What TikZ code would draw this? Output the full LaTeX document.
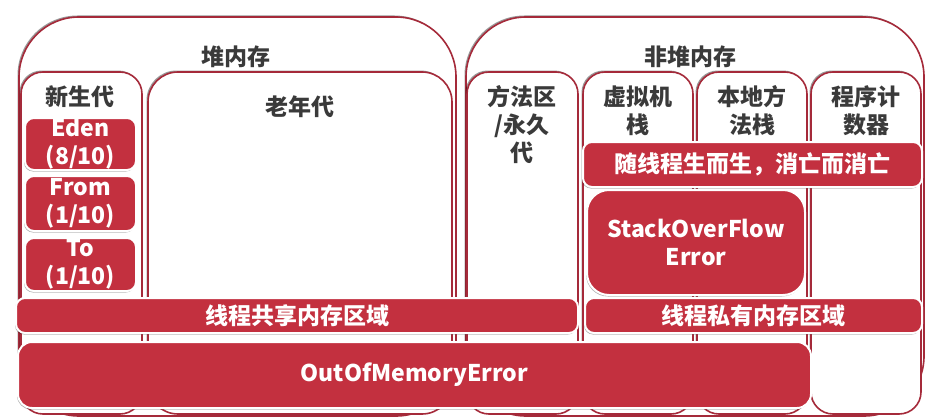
\documentclass[tikz,border=0pt]{standalone}
\usepackage{fontspec}
\setmainfont{Noto Sans CJK SC}
\usetikzlibrary{positioning,shadows}
\definecolor{boxred}{HTML}{C3303F}
\definecolor{edgered}{HTML}{A52A3A}
\definecolor{txtgray}{HTML}{3A3A3A}

\begin{document}
\begin{tikzpicture}[x=1pt,y=-1pt,
  font=\fontsize{23}{28}\selectfont\bfseries,
  memarea/.style={draw=edgered, line width=1.6pt, fill=white, rounded corners=60pt,
    inner sep=0pt, drop shadow={shadow xshift=-1.5pt, shadow yshift=1.5pt, fill=black, opacity=.4}},
  colarea/.style={memarea, rounded corners=22pt},
  redbox/.style={draw=white, line width=2pt, fill=boxred, text=white, rounded corners=9pt,
    inner sep=0pt, align=center,
    drop shadow={shadow xshift=-1pt, shadow yshift=-1.5pt, fill=black, opacity=.3}},
  lbl/.style={text=txtgray, align=center, inner sep=0pt}]
\useasboundingbox[fill=white] (0,0) rectangle (939,420);

% Outer areas
\node[memarea, minimum width=437pt, minimum height=399pt] (heap) at (237.5,216.5) {};
\node[memarea, minimum width=458pt, minimum height=399pt] (nonheap) at (695,216.5) {};
\node[lbl] (heaplbl) at (236,57) {堆内存};
\node[lbl] (nonheaplbl) at (690,57) {非堆内存};

% Columns
\node[colarea, minimum width=121pt, minimum height=342pt] (young) at (81.5,243) {};
\node[colarea, rounded corners=30pt, minimum width=304pt, minimum height=342pt] (old) at (300,243) {};
\node[colarea, minimum width=111pt, minimum height=342pt] (method) at (522.5,243) {};
\node[colarea, minimum width=110pt, minimum height=342pt] (jvmstack) at (638,243) {};
\node[colarea, minimum width=110pt, minimum height=342pt] (native) at (752,243) {};
\node[colarea, minimum width=110pt, minimum height=342pt] (pc) at (866,243) {};

\node[lbl] (younglbl) at (80,97) {新生代};
\node[lbl] (oldlbl) at (300,107) {老年代};
\node[lbl] (methodlbl) at (522,125) {方法区\\/永久\\代};
\node[lbl] (jvmlbl) at (638,111) {虚拟机\\栈};
\node[lbl] (nativelbl) at (752,111) {本地方\\法栈};
\node[lbl] (pclbl) at (866,111) {程序计\\数器};

% Young generation spaces
\node[redbox, minimum width=111pt, minimum height=52pt] (eden) at (80.5,144) {Eden\\(8/10)};
\node[redbox, minimum width=111pt, minimum height=55pt] (from) at (80.5,203.5) {From\\(1/10)};
\node[redbox, minimum width=111pt, minimum height=53pt] (to) at (80.5,264.5) {To\\(1/10)};

% Thread related bands
\node[redbox, minimum width=339pt, minimum height=45pt] (thread) at (752.5,164.5) {随线程生而生，消亡而消亡};
\node[redbox, rounded corners=22pt, minimum width=218pt, minimum height=105pt] (sof) at (696,242.5) {StackOverFlow\\Error};
\node[redbox, minimum width=562pt, minimum height=35pt] (shared) at (297,315.5) {线程共享内存区域};
\node[redbox, minimum width=337pt, minimum height=35pt] (private) at (753.5,315.5) {线程私有内存区域};

% Errors
\node[redbox, rounded corners=14pt, minimum width=793pt, minimum height=66pt] (oom) at (414.5,375) {OutOfMemoryError};
\end{tikzpicture}
\end{document}
